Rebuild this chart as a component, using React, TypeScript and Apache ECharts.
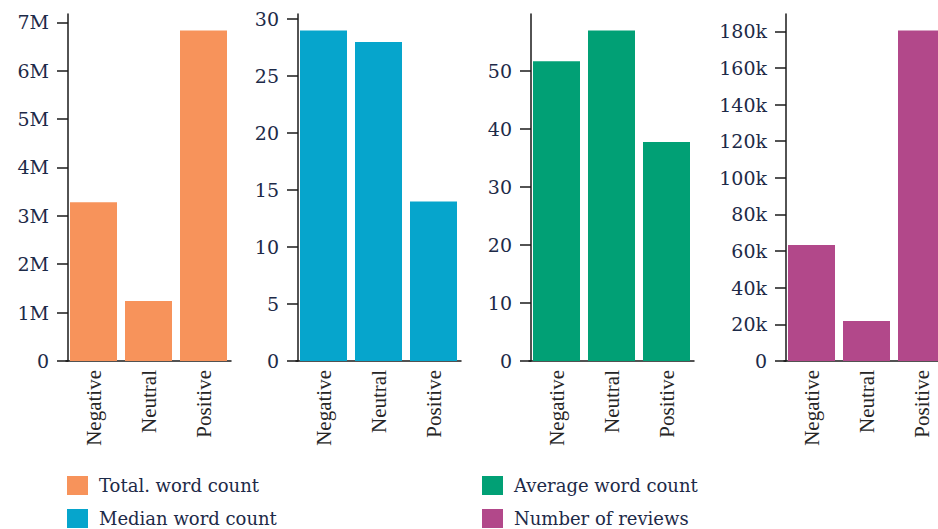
import React, { useEffect, useRef } from "react";
import * as echarts from "echarts";

const categories = ["Negative", "Neutral", "Positive"];

const totalWordCount = [3280000, 1240000, 6830000];
const medianWordCount = [29, 28, 14];
const averageWordCount = [51.6, 56.9, 37.7];
const numberOfReviews = [63300, 21800, 180400];

const seriesNames = [
  "Total. word count",
  "Median word count",
  "Average word count",
  "Number of reviews",
];

const totalTicks = [0, 1000000, 2000000, 3000000, 4000000, 5000000, 6000000, 7000000];
const totalTickLabels = ["0", "1M", "2M", "3M", "4M", "5M", "6M", "7M"];
const medianTicks = [0, 5, 10, 15, 20, 25, 30];
const medianTickLabels = ["0", "5", "10", "15", "20", "25", "30"];
const averageTicks = [0, 10, 20, 30, 40, 50];
const averageTickLabels = ["0", "10", "20", "30", "40", "50"];
const reviewTicks = [0, 20000, 40000, 60000, 80000, 100000, 120000, 140000, 160000, 180000];
const reviewTickLabels = ["0", "20k", "40k", "60k", "80k", "100k", "120k", "140k", "160k", "180k"];

const colors = ["#F7935B", "#06A5CC", "#01A075", "#B2488A"];

export default function App() {
  const ref = useRef<HTMLDivElement>(null);

  useEffect(() => {
    if (!ref.current) return;
    const chart = echarts.init(ref.current, null, { renderer: "svg" });

    const panels = [
      { axisX: 68, values: totalWordCount, ticks: totalTicks, labels: totalTickLabels },
      { axisX: 298, values: medianWordCount, ticks: medianTicks, labels: medianTickLabels },
      { axisX: 531, values: averageWordCount, ticks: averageTicks, labels: averageTickLabels },
      { axisX: 786, values: numberOfReviews, ticks: reviewTicks, labels: reviewTickLabels },
    ];

    const axisColor = "#1a1a1a";
    const labelColor = "#1d2a48";

    const option: any = {
      animation: false,
      backgroundColor: "#ffffff",
      grid: panels.map((p) => ({
        left: p.axisX - 2,
        top: 14,
        width: 165,
        height: 347,
        containLabel: false,
      })),
      xAxis: panels.map((p, i) => ({
        type: "category",
        gridIndex: i,
        data: categories,
        boundaryGap: true,
        axisLine: { show: true, lineStyle: { color: axisColor, width: 1.5 } },
        axisTick: { show: false },
        splitLine: { show: false },
        axisLabel: {
          rotate: 90,
          margin: 9,
          fontFamily: "Liberation Serif",
          fontSize: 21,
          color: "#262626",
        },
      })),
      yAxis: panels.map((p, i) => ({
        type: "value",
        gridIndex: i,
        offset: -2,
        min: 0,
        max: (v: any) => v.max * 1.05,
        splitLine: { show: false },
        axisLine: { show: true, lineStyle: { color: axisColor, width: 1.5 } },
        axisTick: {
          show: true,
          length: 11,
          customValues: p.ticks,
          lineStyle: { color: axisColor, width: 1.5 },
        },
        axisLabel: {
          margin: 19,
          customValues: p.ticks,
          fontFamily: "DejaVu Serif",
          fontSize: 19,
          color: labelColor,
          formatter: (v: number) => {
            const idx = p.ticks.indexOf(v);
            return idx >= 0 ? p.labels[idx] : "";
          },
        },
      })),
      legend: [
        {
          left: 67,
          top: 476,
          orient: "vertical",
          data: [seriesNames[0], seriesNames[1]],
          icon: "rect",
          itemWidth: 21,
          itemHeight: 19,
          itemGap: 14,
          padding: 0,
          selectedMode: false,
          textStyle: {
            fontFamily: "DejaVu Serif",
            fontSize: 18,
            color: labelColor,
            padding: [0, 0, 0, 6],
          },
        },
        {
          left: 482,
          top: 476,
          orient: "vertical",
          data: [seriesNames[2], seriesNames[3]],
          icon: "rect",
          itemWidth: 21,
          itemHeight: 19,
          itemGap: 14,
          padding: 0,
          selectedMode: false,
          textStyle: {
            fontFamily: "DejaVu Serif",
            fontSize: 18,
            color: labelColor,
            padding: [0, 0, 0, 6],
          },
        },
      ],
      series: panels.map((p, i) => ({
        type: "bar",
        name: seriesNames[i],
        xAxisIndex: i,
        yAxisIndex: i,
        data: p.values,
        barWidth: 47,
        itemStyle: { color: colors[i] },
      })),
    };

    chart.setOption(option);
    return () => chart.dispose();
  }, []);

  return (
    <div style={{ position: "fixed", left: 0, top: 0, width: 938, height: 529, overflow: "hidden" }}>
      <div ref={ref} style={{ width: 960, height: 529 }} />
    </div>
  );
}
